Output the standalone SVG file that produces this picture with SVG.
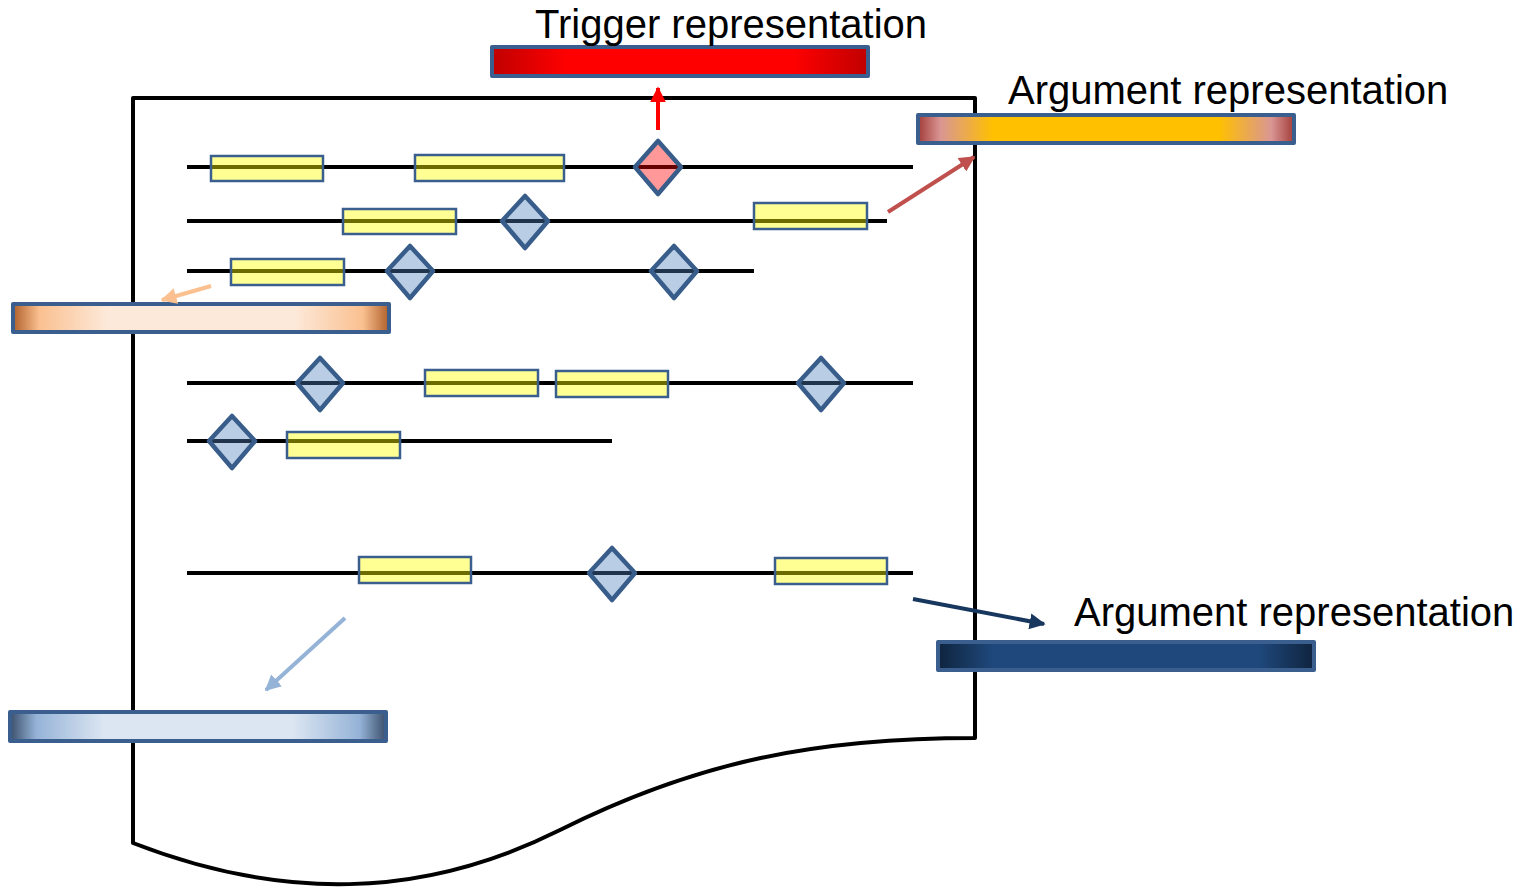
<svg xmlns="http://www.w3.org/2000/svg" width="1517" height="889" viewBox="0 0 1517 889">
<defs>
<linearGradient id="gRed" x1="0" x2="1" y1="0" y2="0">
<stop offset="0" stop-color="#c00000"/><stop offset="0.2" stop-color="#ff0000"/><stop offset="0.8" stop-color="#ff0000"/><stop offset="1" stop-color="#c00000"/>
</linearGradient>
<linearGradient id="gGold" x1="0" x2="1" y1="0" y2="0">
<stop offset="0" stop-color="#a33d3a"/><stop offset="0.06" stop-color="#d99694"/><stop offset="0.2" stop-color="#ffc000"/><stop offset="0.8" stop-color="#ffc000"/><stop offset="0.94" stop-color="#d99694"/><stop offset="1" stop-color="#a33d3a"/>
</linearGradient>
<linearGradient id="gOrange" x1="0" x2="1" y1="0" y2="0">
<stop offset="0" stop-color="#b0602a"/><stop offset="0.07" stop-color="#fac090"/><stop offset="0.25" stop-color="#fde9d9"/><stop offset="0.75" stop-color="#fde9d9"/><stop offset="0.93" stop-color="#fac090"/><stop offset="1" stop-color="#b0602a"/>
</linearGradient>
<linearGradient id="gNavy" x1="0" x2="1" y1="0" y2="0">
<stop offset="0" stop-color="#0f243e"/><stop offset="0.15" stop-color="#1f497d"/><stop offset="0.85" stop-color="#1f497d"/><stop offset="1" stop-color="#0f243e"/>
</linearGradient>
<linearGradient id="gLight" x1="0" x2="1" y1="0" y2="0">
<stop offset="0" stop-color="#3b4f6b"/><stop offset="0.07" stop-color="#95b3d7"/><stop offset="0.25" stop-color="#dce6f2"/><stop offset="0.75" stop-color="#dce6f2"/><stop offset="0.93" stop-color="#95b3d7"/><stop offset="1" stop-color="#3b4f6b"/>
</linearGradient>
<marker id="mRed" viewBox="0 0 10 10" refX="9" refY="5" markerWidth="4" markerHeight="4" orient="auto"><path d="M0,0 L10,5 L0,10 z" fill="#ff0000"/></marker>
<marker id="mBrown" viewBox="0 0 10 10" refX="9" refY="5" markerWidth="4" markerHeight="4" orient="auto"><path d="M0,0 L10,5 L0,10 z" fill="#c0504d"/></marker>
<marker id="mOrange" viewBox="0 0 10 10" refX="9" refY="5" markerWidth="4" markerHeight="4" orient="auto"><path d="M0,0 L10,5 L0,10 z" fill="#fac090"/></marker>
<marker id="mNavy" viewBox="0 0 10 10" refX="9" refY="5" markerWidth="4" markerHeight="4" orient="auto"><path d="M0,0 L10,5 L0,10 z" fill="#17375e"/></marker>
<marker id="mLight" viewBox="0 0 10 10" refX="9" refY="5" markerWidth="4" markerHeight="4" orient="auto"><path d="M0,0 L10,5 L0,10 z" fill="#95b3d7"/></marker>
</defs>
<style>
.seq{stroke:#000;stroke-width:4;fill:none}
.tok{fill:#ffff00;fill-opacity:0.42;stroke:#3a5f8f;stroke-width:2.5}
.dia{fill:#4f81bd;fill-opacity:0.4;stroke:#385d8a;stroke-width:4.5;stroke-linejoin:round}
.trig{fill:#ff0000;fill-opacity:0.4;stroke:#385d8a;stroke-width:4.5;stroke-linejoin:round}
.bar{stroke:#3a5f8f;stroke-width:4;stroke-linejoin:round}
.lbl{font-family:"Liberation Sans",Arial,sans-serif;font-size:40px;fill:#000}
.arr{fill:none;stroke-width:4}
</style>
<g id="document">
<path d="M133,98 L975,98 L975,738 C 820,738 700,760 560,830 C 420,900 280,900 133,843 Z" fill="none" stroke="#000" stroke-width="4" stroke-linejoin="round"/>
</g>
<g id="sequences">
<line class="seq" x1="187" y1="167" x2="913" y2="167"/>
<line class="seq" x1="187" y1="221" x2="887" y2="221"/>
<line class="seq" x1="187" y1="271" x2="754" y2="271"/>
<line class="seq" x1="187" y1="383" x2="913" y2="383"/>
<line class="seq" x1="187" y1="441" x2="612" y2="441"/>
<line class="seq" x1="187" y1="573" x2="913" y2="573"/>
</g>
<g id="tokens">
<rect class="tok" x="211" y="156" width="112" height="25"/>
<rect class="tok" x="415" y="155" width="149" height="26"/>
<rect class="tok" x="343" y="209" width="113" height="25"/>
<rect class="tok" x="754" y="203" width="113" height="26"/>
<rect class="tok" x="231" y="259" width="113" height="26"/>
<rect class="tok" x="425" y="370" width="113" height="26"/>
<rect class="tok" x="556" y="371" width="112" height="26"/>
<rect class="tok" x="287" y="432" width="113" height="26"/>
<rect class="tok" x="359" y="557" width="112" height="26"/>
<rect class="tok" x="775" y="558" width="112" height="26"/>
</g>
<g id="trigger-diamond">
<path class="trig" d="M658,141 L681,167 L658,194 L635,167 Z"/>
</g>
<g id="entity-diamonds">
<path class="dia" d="M525,196 L548,221 L525,248 L502,221 Z"/>
<path class="dia" d="M410,246 L433,271 L410,298 L387,271 Z"/>
<path class="dia" d="M674,246 L697,271 L674,298 L651,271 Z"/>
<path class="dia" d="M320,358 L343,383 L320,410 L297,383 Z"/>
<path class="dia" d="M821,358 L844,383 L821,410 L798,383 Z"/>
<path class="dia" d="M232,416 L255,441 L232,468 L209,441 Z"/>
<path class="dia" d="M612,548 L635,573 L612,600 L589,573 Z"/>
</g>
<g id="trigger-rep">
<rect class="bar" x="492" y="47" width="376" height="29" fill="url(#gRed)"/>
<text class="lbl" x="535" y="38">Trigger representation</text>
</g>
<g id="argument-rep-1">
<rect class="bar" x="918" y="115" width="376" height="28" fill="url(#gGold)"/>
<text class="lbl" x="1008" y="104">Argument representation</text>
</g>
<g id="orange-rep">
<rect class="bar" x="13" y="304" width="376" height="28" fill="url(#gOrange)"/>
</g>
<g id="argument-rep-2">
<rect class="bar" x="938" y="642" width="376" height="28" fill="url(#gNavy)"/>
<text class="lbl" x="1074" y="626">Argument representation</text>
</g>
<g id="lightblue-rep">
<rect class="bar" x="10" y="712" width="376" height="29" fill="url(#gLight)"/>
</g>
<g id="connectors">
<line class="arr" x1="658" y1="130" x2="658" y2="88" stroke="#ff0000" marker-end="url(#mRed)"/>
<line class="arr" x1="888" y1="212" x2="974" y2="157" stroke="#c0504d" marker-end="url(#mBrown)"/>
<line class="arr" x1="211" y1="286" x2="162" y2="300" stroke="#fac090" marker-end="url(#mOrange)"/>
<line class="arr" x1="913" y1="599" x2="1044" y2="624" stroke="#17375e" marker-end="url(#mNavy)"/>
<line class="arr" x1="345" y1="618" x2="266" y2="690" stroke="#95b3d7" marker-end="url(#mLight)"/>
</g>
</svg>
